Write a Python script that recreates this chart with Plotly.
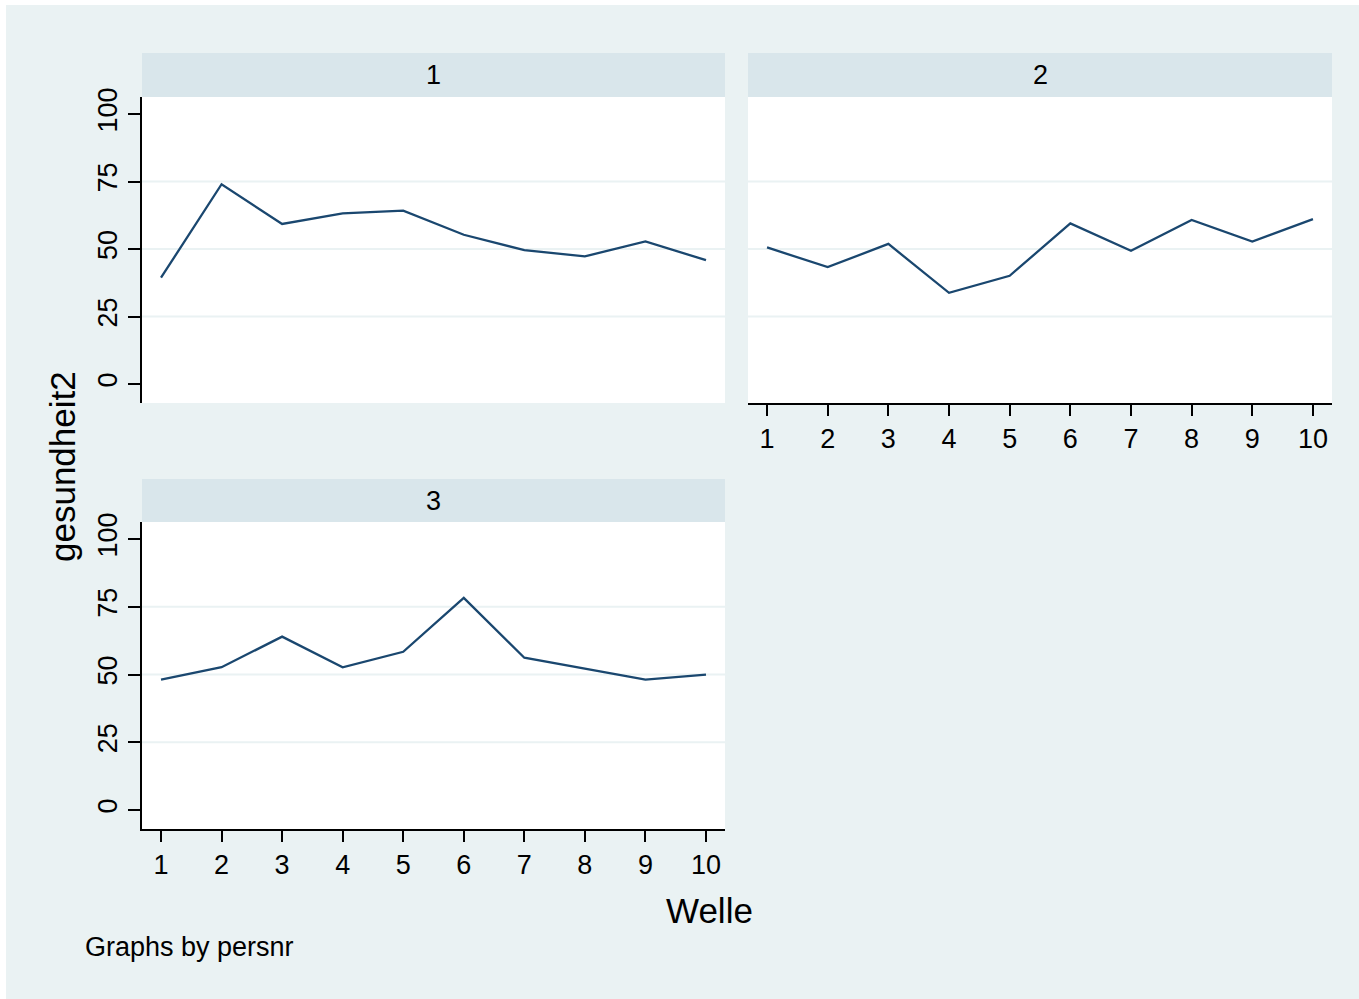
import plotly.graph_objects as go

# --- data -------------------------------------------------------------
welle = [1, 2, 3, 4, 5, 6, 7, 8, 9, 10]
persnr = ["1", "2", "3"]
gesundheit2_p1 = [39.4, 74.0, 59.3, 63.2, 64.2, 55.3, 49.6, 47.3, 52.8, 45.9]
gesundheit2_p2 = [50.6, 43.3, 51.9, 33.8, 40.1, 59.5, 49.4, 60.8, 52.8, 61.1]
gesundheit2_p3 = [48.1, 52.7, 64.0, 52.7, 58.4, 78.3, 56.2, 52.2, 48.1, 50.0]
series = [gesundheit2_p1, gesundheit2_p2, gesundheit2_p3]

y_ticks = [0, 25, 50, 75, 100]
grid_levels = [25, 50, 75]

# --- style ------------------------------------------------------------
W, H = 1359, 999
FONT = "Liberation Sans, Arial, sans-serif"
BG = "#EAF2F3"
STRIP = "#D9E6EB"
GRID = "#EAF2F3"
LINE = "#1A476F"


def px_x(p):
    return p / W


def px_y(p):
    return 1 - p / H


# panel boxes in pixels: (left, right, strip_top, plot_top, plot_bottom)
panels = [
    (142, 725, 53, 97, 403),
    (748, 1332, 53, 97, 403),
    (142, 725, 479, 522, 829),
]
show_xaxis = [False, True, True]
show_yaxis = [True, False, True]

x_range = [0.686, 10.314]
y_range = [-7.0, 106.3]

fig = go.Figure()
shapes = []
annotations = []

for i, (left, right, stop, ptop, pbot) in enumerate(panels):
    n = i + 1
    xa = "x" if n == 1 else f"x{n}"
    ya = "y" if n == 1 else f"y{n}"
    fig.add_trace(go.Scatter(
        x=welle, y=series[i], mode="lines",
        line=dict(color=LINE, width=2.3),
        xaxis=xa, yaxis=ya, showlegend=False, hoverinfo="x+y",
    ))
    xkey = "xaxis" if n == 1 else f"xaxis{n}"
    ykey = "yaxis" if n == 1 else f"yaxis{n}"
    fig.layout[xkey] = dict(
        domain=[px_x(left), px_x(right)],
        anchor=ya, range=x_range, tickvals=welle,
        automargin=False,
        showgrid=False, zeroline=False,
        showline=show_xaxis[i], linecolor="black", linewidth=1.7,
        ticks="outside" if show_xaxis[i] else "",
        ticklen=11, tickwidth=1.7, tickcolor="black",
        showticklabels=show_xaxis[i],
        tickfont=dict(family=FONT, size=27, color="black"),
    )
    fig.layout[ykey] = dict(
        domain=[px_y(pbot), px_y(ptop)],
        anchor=xa, range=y_range, tickvals=y_ticks,
        automargin=False,
        showgrid=False, zeroline=False,
        showline=show_yaxis[i], linecolor="black", linewidth=1.7,
        ticks="outside" if show_yaxis[i] else "",
        ticklen=12, tickwidth=1.7, tickcolor="black",
        showticklabels=show_yaxis[i], tickangle=-90,
        tickfont=dict(family=FONT, size=27, color="black"),
    )
    # horizontal gridlines
    for g in grid_levels:
        shapes.append(dict(
            type="line", xref=f"{xa} domain", yref=ya,
            x0=0, x1=1, y0=g, y1=g, layer="below",
            line=dict(color=GRID, width=2),
        ))
    # title strip above each panel
    shapes.append(dict(
        type="rect", xref="paper", yref="paper",
        x0=px_x(left), x1=px_x(right), y0=px_y(ptop), y1=px_y(stop),
        fillcolor=STRIP, line=dict(width=0), layer="below",
    ))
    annotations.append(dict(
        text=persnr[i], xref="paper", yref="paper",
        x=px_x((left + right) / 2), y=px_y((stop + ptop) / 2),
        xanchor="center", yanchor="middle", showarrow=False,
        font=dict(family=FONT, size=27, color="black"),
    ))

# thin white frame along the top and left edges
shapes.append(dict(type="rect", xref="paper", yref="paper",
                   x0=0, x1=px_x(6), y0=0, y1=1,
                   fillcolor="white", line=dict(width=0), layer="below"))
shapes.append(dict(type="rect", xref="paper", yref="paper",
                   x0=0, x1=1, y0=px_y(5), y1=1,
                   fillcolor="white", line=dict(width=0), layer="below"))

annotations += [
    dict(text="Welle", xref="paper", yref="paper",
         x=px_x(709), y=px_y(910), xanchor="center", yanchor="middle",
         showarrow=False, font=dict(family=FONT, size=35, color="black")),
    dict(text="gesundheit2", xref="paper", yref="paper",
         x=px_x(62), y=px_y(467), xanchor="center", yanchor="middle",
         textangle=-90, showarrow=False,
         font=dict(family=FONT, size=35, color="black")),
    dict(text="Graphs by persnr", xref="paper", yref="paper",
         x=px_x(83), y=px_y(947), xanchor="left", yanchor="middle",
         showarrow=False, font=dict(family=FONT, size=27, color="black")),
]

fig.update_layout(
    width=W, height=H,
    margin=dict(l=0, r=0, t=0, b=0, autoexpand=False),
    paper_bgcolor=BG, plot_bgcolor="white",
    shapes=shapes, annotations=annotations,
    showlegend=False,
)

fig.write_html("out.html")
